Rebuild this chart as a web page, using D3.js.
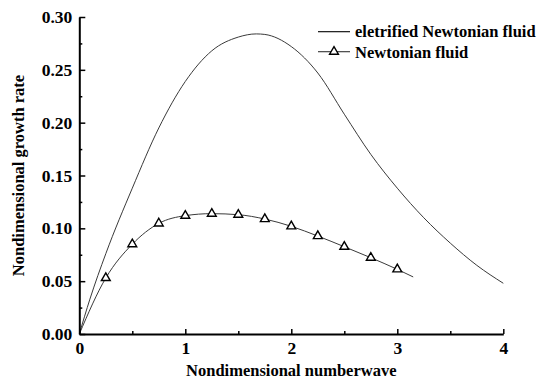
<!DOCTYPE html>
<html>
<head>
<meta charset="utf-8">
<script src="https://cdn.jsdelivr.net/npm/d3@7"></script>
<style>
  html, body { margin: 0; padding: 0; background: #fff; }
  svg { display: block; }
  text { font-family: "Liberation Serif", "Times New Roman", serif; font-weight: bold; fill: #000; }
</style>
</head>
<body>
<svg id="chart" width="540" height="383"></svg>
<script>
// Growth rate vs. wavenumber: electrified fluid (smooth curve)
const elecK    = [0, 0.1, 0.25, 0.5, 0.75, 1.0, 1.25, 1.5, 1.67, 1.75, 2.0, 2.25, 2.5, 2.75, 3.0, 3.25, 3.5, 3.75, 4.0];
const elecRate = [0, 0.033, 0.076, 0.138, 0.195, 0.239, 0.268, 0.281, 0.284, 0.2835, 0.272, 0.247, 0.208, 0.170, 0.138, 0.110, 0.086, 0.065, 0.048];

// Newtonian fluid: curve samples and marked points
const newtK      = [0, 0.25, 0.5, 0.75, 1.0, 1.25, 1.5, 1.75, 2.0, 2.25, 2.5, 2.75, 3.0, 3.15];
const newtRate   = [0, 0.053, 0.085, 0.1047, 0.112, 0.1139, 0.1129, 0.1088, 0.1019, 0.0927, 0.0826, 0.0722, 0.0612, 0.054];
const markerK    = [0.25, 0.5, 0.75, 1.0, 1.25, 1.5, 1.75, 2.0, 2.25, 2.5, 2.75, 3.0];
const markerRate = [0.053, 0.085, 0.1047, 0.112, 0.1139, 0.1129, 0.1088, 0.1019, 0.0927, 0.0826, 0.0722, 0.0612];

const xTicks      = [0, 1, 2, 3, 4];
const xMinorTicks = [0.5, 1.5, 2.5, 3.5];
const yTicks      = [0, 0.05, 0.10, 0.15, 0.20, 0.25, 0.30];
const yMinorTicks = [0.025, 0.075, 0.125, 0.175, 0.225, 0.275];

const seriesNames = ["eletrified Newtonian fluid", "Newtonian fluid"];
const xTitle = "Nondimensional numberwave";
const yTitle = "Nondimensional growth rate";

const svg = d3.select("#chart");
const x = d3.scaleLinear().domain([0, 4]).range([79.3, 503.3]);
const y = d3.scaleLinear().domain([0, 0.30]).range([334, 17]);
const FS = 16.5;
const TICK_FS = 17.5;

const line = d3.line().x(d => x(d[0])).y(d => y(d[1])).curve(d3.curveMonotoneX);

// curves
svg.append("path")
  .attr("d", line(d3.zip(elecK, elecRate)))
  .attr("fill", "none").attr("stroke", "#3a3a3a").attr("stroke-width", 1);

svg.append("path")
  .attr("d", line(d3.zip(newtK, newtRate)))
  .attr("fill", "none").attr("stroke", "#3a3a3a").attr("stroke-width", 1);

const tri = d3.symbol().type(d3.symbolTriangle).size(34);
svg.append("g").selectAll("path")
  .data(d3.zip(markerK, markerRate))
  .join("path")
  .attr("d", tri)
  .attr("transform", d => `translate(${x(d[0])},${y(d[1])})`)
  .attr("fill", "#fff").attr("stroke", "#000").attr("stroke-width", 1.4);

// axes
function styleAxis(g) {
  g.select(".domain").attr("stroke", "#000").attr("stroke-width", 2);
  g.selectAll(".tick line").attr("stroke", "#000").attr("stroke-width", 1.5);
  g.selectAll("text").attr("font-size", TICK_FS).attr("font-family", null).attr("fill", "#000");
}

svg.append("g").attr("transform", `translate(0,${y(0)})`)
  .call(d3.axisBottom(x).tickValues(xTicks).tickFormat(d3.format("d"))
    .tickSizeInner(-5).tickSizeOuter(0).tickPadding(8))
  .call(styleAxis);
svg.append("g").attr("transform", `translate(0,${y(0)})`)
  .call(d3.axisBottom(x).tickValues(xMinorTicks).tickFormat("")
    .tickSizeInner(-3).tickSizeOuter(0))
  .call(g => g.select(".domain").remove())
  .call(styleAxis);

svg.append("g").attr("transform", `translate(${x(0)},0)`)
  .call(d3.axisLeft(y).tickValues(yTicks).tickFormat(d3.format(".2f"))
    .tickSizeInner(-6).tickSizeOuter(0).tickPadding(7))
  .call(styleAxis);
svg.append("g").attr("transform", `translate(${x(0)},0)`)
  .call(d3.axisLeft(y).tickValues(yMinorTicks).tickFormat("")
    .tickSizeInner(-3).tickSizeOuter(0))
  .call(g => g.select(".domain").remove())
  .call(styleAxis);

// axis titles
svg.append("text")
  .attr("x", x(2)).attr("y", 376)
  .attr("text-anchor", "middle").attr("font-size", FS)
  .text(xTitle);

svg.append("text")
  .attr("transform", `translate(24,${(y(0.30) + y(0)) / 2}) rotate(-90)`)
  .attr("text-anchor", "middle").attr("font-size", FS)
  .text(yTitle);

// legend
const lg = svg.append("g");
lg.append("line").attr("x1", 318).attr("x2", 350).attr("y1", 31.7).attr("y2", 31.7)
  .attr("stroke", "#000").attr("stroke-width", 1.1);
lg.append("text").attr("x", 355).attr("y", 37).attr("font-size", FS).text(seriesNames[0]);

lg.append("line").attr("x1", 318).attr("x2", 350).attr("y1", 51.7).attr("y2", 51.7)
  .attr("stroke", "#333").attr("stroke-width", 1.1);
lg.append("path").attr("d", tri).attr("transform", "translate(334,51.7)")
  .attr("fill", "#fff").attr("stroke", "#000").attr("stroke-width", 1.4);
lg.append("text").attr("x", 355).attr("y", 57.5).attr("font-size", FS).text(seriesNames[1]);
</script>
</body>
</html>
